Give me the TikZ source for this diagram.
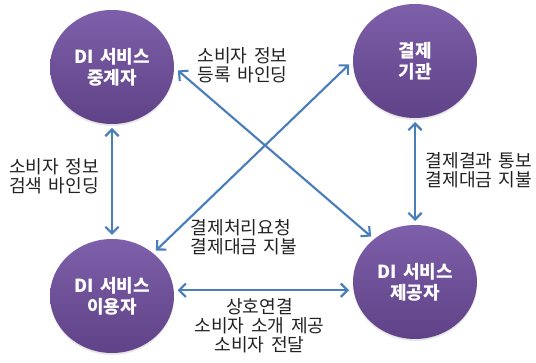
\documentclass[tikz,border=0pt]{standalone}
\usepackage{fontspec}
\setmainfont{Noto Sans CJK KR}[WordSpace=1.6]
\usetikzlibrary{arrows.meta,shapes.geometric,shadows}
\definecolor{arrowblue}{HTML}{4A7EBB}
\definecolor{balltop}{HTML}{7E5FAA}
\definecolor{ballbot}{HTML}{5F4287}
\definecolor{textgray}{HTML}{222222}
\begin{document}
\begin{tikzpicture}[x=0.75pt,y=-0.75pt,
  ball/.style={ellipse, minimum width=93pt, minimum height=85.5pt, inner sep=0pt, outer sep=3pt,
    top color=balltop, bottom color=ballbot, draw=none,
    drop shadow={opacity=0.18, shadow xshift=0pt, shadow yshift=-1.5pt},
    font=\bfseries\fontsize{13.5pt}{16pt}\selectfont, text=white, align=center},
  conn/.style={draw=arrowblue, line width=1.6pt,
    {Straight Barb[length=5pt,width=10pt]}-{Straight Barb[length=5pt,width=10pt]}},
  lbl/.style={font=\fontsize{13.6pt}{14.25pt}\selectfont, text=textgray, align=left, inner sep=0pt}]
\useasboundingbox (0,0) rectangle (536,363);
\node[ball] (tl) at (112,67) {DI 서비스\\중계자};
\node[ball] (tr) at (415,61) {결제\\기관};
\node[ball] (bl) at (112,296) {DI 서비스\\이용자};
\node[ball] (br) at (415,282) {DI 서비스\\제공자};

\draw[conn] (tl.south) -- (bl.north);
\draw[conn] (tr.south) -- (br.north);
\draw[conn] (tl.-3) -- (br.134);
\draw[conn] (bl.46) -- (tr.183);
\draw[conn] (bl.5) -- (bl.5 -| br.west);

\node[lbl] (l1) at (242.5,65) {소비자 정보\\등록 바인딩};
\node[lbl] (l2) at (54,176.5) {소비자 정보\\검색 바인딩};
\node[lbl] (l3) at (479,170.5) {결제결과 통보\\결제대금 지불};
\node[lbl] (l4) at (244,237.5) {결제처리요청\\결제대금 지불};
\node[lbl, align=center] (l5) at (259.5,325.5) {상호연결\\소비자 소개 제공\\소비자 전달};
\end{tikzpicture}
\end{document}
